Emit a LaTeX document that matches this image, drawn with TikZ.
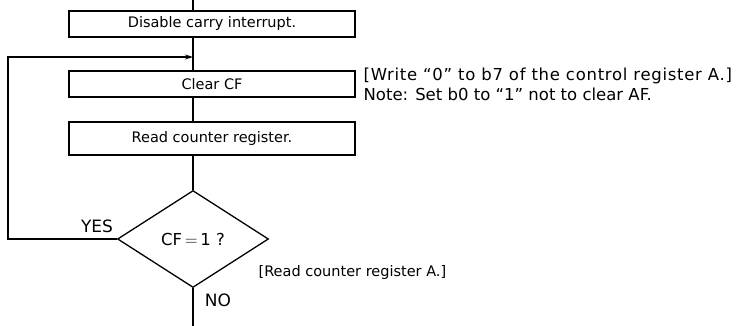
\documentclass[tikz,border=0pt]{standalone}
\usepackage{fontspec}
\setmainfont{DejaVu Sans}
\usetikzlibrary{arrows.meta,shapes.geometric}
\begin{document}
\begin{tikzpicture}[x=1pt,y=-1pt,
  line width=1.3pt,
  stepbox/.style={draw,minimum width=286pt,inner sep=0pt,font=\fontsize{14.5}{16}\selectfont},
  decide/.style={draw,diamond,minimum width=151pt,minimum height=97pt,inner sep=0pt,font=\fontsize{16.5}{18}\selectfont},
  note/.style={inner sep=0pt,anchor=west,font=\fontsize{16.5}{18}\selectfont},
  smallnote/.style={inner sep=0pt,anchor=west,font=\fontsize{14.5}{16}\selectfont},
  lbl/.style={inner sep=0pt,font=\fontsize{17}{18}\selectfont}]
\useasboundingbox (0,0) rectangle (741,326);
\coordinate (top) at (193,0);
\coordinate (bot) at (193,326);
\node[stepbox,minimum height=26pt] (b1) at (212,24) {Disable carry interrupt.};
\node[stepbox,minimum height=26pt] (b2) at (212,84) {Clear CF};
\node[stepbox,minimum height=33pt] (b3) at (212,138.5) {Read counter register.};
\node[decide] (d) at (193,239) {CF$\,=\,$1 ?};
\coordinate (lj) at (193,57);
\coordinate (lt) at (8,57);
\coordinate (lb) at (8,239);
\draw (top) -- (top |- b1.north);
\draw (b1.south -| top) -- (b2.north -| top);
\draw (b2.south -| top) -- (b3.north -| top);
\draw (b3.south -| top) -- (d.north);
\draw (d.south) -- (bot);
\draw[-{Stealth[length=8pt,width=5pt]}] (d.west) -- (lb) -- (lt) -- (lj);
\node[lbl] (yes) at (97,226) {YES};
\node[lbl] (no) at (218,300) {NO};
\node[note] (n1) at (363,76) {\addfontfeatures{LetterSpace=4.3}[Write “0” to b7 of the control register A.]};
\node[note] (n2) at (363,94) {Note: Set b0 to “1” not to clear AF.};
\node[smallnote] (n3) at (258,272) {[Read counter register A.]};
\end{tikzpicture}
\end{document}
